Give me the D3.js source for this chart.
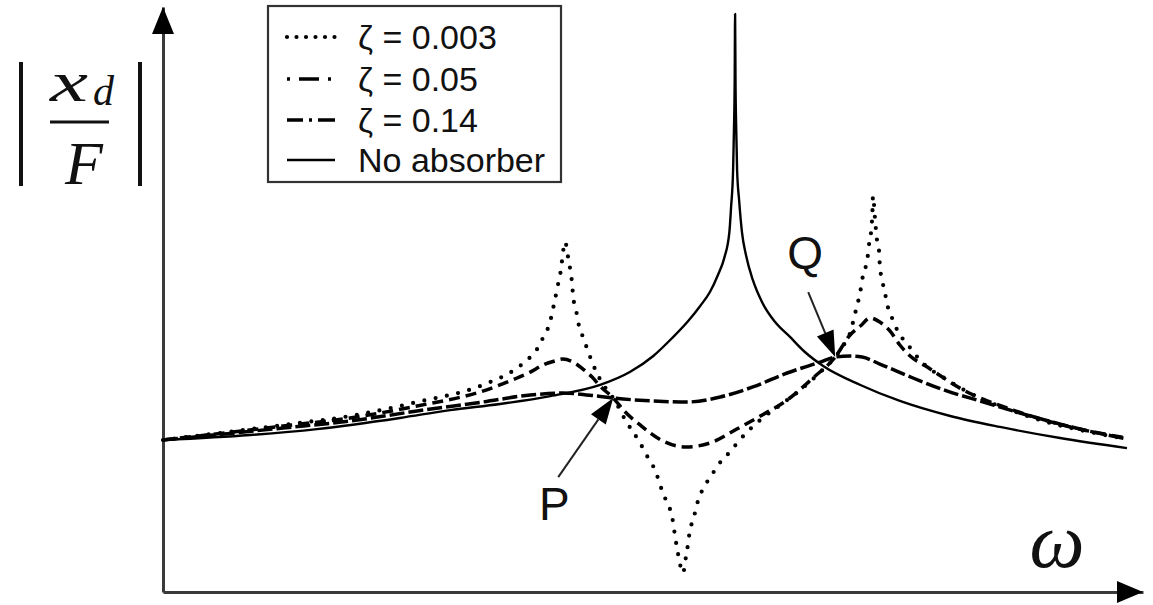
<!DOCTYPE html>
<html>
<head>
<meta charset="utf-8">
<script src="https://cdn.jsdelivr.net/npm/d3@7"></script>
<style>
  html, body { margin: 0; padding: 0; background: #fff; }
  svg { display: block; }
</style>
</head>
<body>
<svg id="chart" width="1153" height="605"></svg>
<script>
// Frequency ratio ω/ωn and response amplitude |x_d/F| (static response = 1)

// Main mass without absorber
const omegaNoAbsorber = [0, 0.152, 0.269, 0.414, 0.502, 0.589, 0.677, 0.764, 0.816, 0.857,
  0.890, 0.918, 0.939, 0.956, 0.970, 0.981, 0.990, 0.993, 0.9965, 0.998, 0.9993,
  1.000,
  1.0007, 1.002, 1.0035, 1.007, 1.012, 1.019, 1.031, 1.047, 1.070, 1.096, 1.122,
  1.154, 1.219, 1.288, 1.376, 1.463, 1.568, 1.685];
const ampNoAbsorber = [1.000, 1.033, 1.072, 1.145, 1.197, 1.237, 1.289, 1.362, 1.447, 1.553,
  1.671, 1.783, 1.882, 1.974, 2.086, 2.197, 2.368, 2.533, 2.776, 3.039, 3.368,
  3.803,
  3.368, 3.039, 2.776, 2.579, 2.368, 2.217, 2.053, 1.908, 1.776, 1.678, 1.579,
  1.487, 1.362, 1.257, 1.158, 1.086, 1.013, 0.947];

// Absorber damping ζ = 0.003
const omegaZeta003 = [0, 0.210, 0.327, 0.444, 0.559, 0.619, 0.642, 0.654, 0.664, 0.677,
  0.682, 0.691, 0.696, 0.699, 0.703, 0.708, 0.712, 0.715, 0.717, 0.722,
  0.726, 0.734, 0.741, 0.750, 0.760, 0.776, 0.787, 0.808, 0.834, 0.848,
  0.860, 0.872, 0.881, 0.890, 0.893, 0.897, 0.900, 0.904, 0.909, 0.914,
  0.918, 0.921, 0.927, 0.932, 0.939, 0.951, 0.965, 0.977, 0.991, 1.005,
  1.044, 1.079, 1.114, 1.149, 1.175, 1.192, 1.201, 1.210, 1.219, 1.224,
  1.231, 1.234, 1.238, 1.240, 1.241, 1.245, 1.248, 1.252, 1.253, 1.257,
  1.262, 1.267, 1.276, 1.285, 1.301, 1.323, 1.371, 1.428, 1.486, 1.545,
  1.603, 1.685];
const ampZeta003 = [1.000, 1.099, 1.158, 1.250, 1.362, 1.474, 1.546, 1.599, 1.671, 1.783,
  1.868, 2.033, 2.132, 2.230, 2.303, 2.204, 2.118, 2.033, 1.941, 1.855,
  1.770, 1.678, 1.605, 1.513, 1.428, 1.329, 1.276, 1.132, 0.980, 0.882,
  0.803, 0.671, 0.586, 0.493, 0.421, 0.322, 0.257, 0.178, 0.125, 0.230,
  0.322, 0.408, 0.474, 0.559, 0.638, 0.724, 0.803, 0.868, 0.921, 0.987,
  1.132, 1.230, 1.329, 1.447, 1.546, 1.638, 1.704, 1.836, 1.980, 2.092,
  2.184, 2.283, 2.382, 2.493, 2.605, 2.434, 2.316, 2.230, 2.145, 2.053,
  1.967, 1.875, 1.789, 1.711, 1.632, 1.526, 1.395, 1.276, 1.191, 1.118,
  1.066, 1.007];

// Absorber damping ζ = 0.05
const omegaZeta05 = [0, 0.210, 0.327, 0.444, 0.559, 0.619, 0.642, 0.664, 0.685, 0.699,
  0.717, 0.734, 0.750, 0.764, 0.787, 0.808, 0.834, 0.874, 0.913, 0.956,
  1.003, 1.044, 1.091, 1.136, 1.175, 1.201, 1.219, 1.236, 1.253, 1.271,
  1.288, 1.306, 1.336, 1.399, 1.486, 1.586, 1.685];
const ampZeta05 = [1.000, 1.092, 1.145, 1.224, 1.322, 1.408, 1.447, 1.493, 1.520, 1.533,
  1.513, 1.467, 1.414, 1.355, 1.276, 1.184, 1.099, 0.993, 0.954, 0.980,
  1.072, 1.158, 1.263, 1.408, 1.546, 1.691, 1.750, 1.803, 1.776, 1.717,
  1.625, 1.553, 1.480, 1.329, 1.197, 1.086, 1.013];

// Absorber damping ζ = 0.14
const omegaZeta14 = [0, 0.210, 0.327, 0.444, 0.559, 0.642, 0.699, 0.759, 0.787, 0.857,
  0.916, 0.974, 1.031, 1.091, 1.149, 1.175, 1.201, 1.222, 1.253, 1.311,
  1.371, 1.428, 1.516, 1.603, 1.685];
const ampZeta14 = [1.000, 1.079, 1.125, 1.191, 1.250, 1.296, 1.309, 1.289, 1.276, 1.257,
  1.250, 1.283, 1.349, 1.441, 1.513, 1.546, 1.553, 1.546, 1.500, 1.408,
  1.322, 1.257, 1.158, 1.072, 1.007];

const legendLabels = ["ζ = 0.003", "ζ = 0.05", "ζ = 0.14", "No absorber"];

// Fixed points shared by every damped curve
const fixedNames = ["P", "Q"];
const fixedOmega = [0.787, 1.175];
const fixedAmp = [1.276, 1.546];

// ---------------------------------------------------------------------------
const svg = d3.select("#chart");

const x = d3.scaleLinear().domain([0, 1.713]).range([163, 1143]);
const y = d3.scaleLinear().domain([0, 3.849]).range([592, 7]);

const line = d3.line()
  .x(d => x(d[0]))
  .y(d => y(d[1]))
  .curve(d3.curveMonotoneX);

const series = [
  { label: legendLabels[0], pts: d3.zip(omegaZeta003, ampZeta003),
    width: 4.2, dash: "0 11.5", cap: "round", legendDash: "0 9.5" },
  { label: legendLabels[1], pts: d3.zip(omegaZeta05, ampZeta05),
    width: 3.5, dash: "11 6", cap: "butt", legendDash: "3 9 20 9 3 4" },
  { label: legendLabels[2], pts: d3.zip(omegaZeta14, ampZeta14),
    width: 3.5, dash: "15 4", cap: "butt", legendDash: "16 6 3 6 17" },
  { label: legendLabels[3], pts: d3.zip(omegaNoAbsorber, ampNoAbsorber),
    width: 2.4, dash: null, cap: "butt", legendDash: null }
];

// Axes: plain lines without ticks, finished with arrowheads
const axisColor = "#3a3a3a";
const xAxis = svg.append("g").attr("transform", `translate(0,${y(0)})`)
  .call(d3.axisBottom(x).tickValues([]).tickSizeOuter(0));
const yAxis = svg.append("g").attr("transform", `translate(${x(0)},0)`)
  .call(d3.axisLeft(y).tickValues([]).tickSizeOuter(0));
[xAxis, yAxis].forEach(g => g.select(".domain")
  .attr("stroke", axisColor).attr("stroke-width", 3));

const xEnd = x.range()[1], yTop = y.range()[1];
svg.append("path")
  .attr("d", `M${xEnd},${y(0)} L${xEnd - 26},${y(0) - 11} L${xEnd - 26},${y(0) + 11} Z`)
  .attr("fill", "#000");
svg.append("path")
  .attr("d", `M${x(0)},${yTop} L${x(0) - 11},${yTop + 27} L${x(0) + 11},${yTop + 27} Z`)
  .attr("fill", "#000");

// Curves
svg.append("g").selectAll("path")
  .data(series)
  .join("path")
  .attr("d", d => line(d.pts))
  .attr("fill", "none")
  .attr("stroke", "#000")
  .attr("stroke-width", d => d.width)
  .attr("stroke-linecap", d => d.cap)
  .attr("stroke-linejoin", "round")
  .attr("stroke-dasharray", d => d.dash);

// Fixed point annotations P and Q
const annot = [
  { tail: [-55, 79], text: [-59, 122] },
  { tail: [-27, -65], text: [-30, -88] }
];
fixedNames.forEach((name, i) => {
  const px = x(fixedOmega[i]), py = y(fixedAmp[i]);
  const a = annot[i];
  const tx = px + a.tail[0], ty = py + a.tail[1];
  const ang = Math.atan2(py - ty, px - tx);
  const hl = 26, hw = 9;
  const bx = px - hl * Math.cos(ang), by = py - hl * Math.sin(ang);
  svg.append("line")
    .attr("x1", tx).attr("y1", ty).attr("x2", bx).attr("y2", by)
    .attr("stroke", "#222").attr("stroke-width", 2);
  const nx = -Math.sin(ang), ny = Math.cos(ang);
  svg.append("path")
    .attr("d", `M${px},${py} L${bx + nx * hw},${by + ny * hw} L${bx - nx * hw},${by - ny * hw} Z`)
    .attr("fill", "#000");
  svg.append("text")
    .attr("x", px + a.text[0]).attr("y", py + a.text[1])
    .attr("text-anchor", "middle")
    .attr("font-family", "'Liberation Sans', Arial, sans-serif")
    .attr("font-size", 46)
    .attr("fill", "#111")
    .text(name);
});

// Legend
const legend = svg.append("g");
legend.append("rect")
  .attr("x", 268).attr("y", 6).attr("width", 293).attr("height", 176)
  .attr("fill", "#fff").attr("stroke", "#333").attr("stroke-width", 2.2);
const rowY = [37, 79, 120, 160];
series.forEach((s, i) => {
  legend.append("line")
    .attr("x1", 287).attr("x2", 335).attr("y1", rowY[i]).attr("y2", rowY[i])
    .attr("stroke", "#000")
    .attr("stroke-width", s.width)
    .attr("stroke-linecap", s.cap)
    .attr("stroke-dasharray", s.legendDash);
  legend.append("text")
    .attr("x", 358).attr("y", rowY[i] + 12)
    .attr("font-family", "'Liberation Sans', Arial, sans-serif")
    .attr("font-size", 34)
    .attr("fill", "#111")
    .text(s.label);
});

// Axis titles
const serif = "'Liberation Serif', 'Times New Roman', serif";
const yl = svg.append("g").attr("fill", "#111");
[21, 140].forEach(bx => yl.append("line")
  .attr("x1", bx).attr("x2", bx).attr("y1", 62).attr("y2", 186)
  .attr("stroke", "#111").attr("stroke-width", 4));
yl.append("text").attr("x", 50).attr("y", 101)
  .attr("font-family", serif).attr("font-style", "italic").attr("font-size", 58)
  .attr("textLength", 38).attr("lengthAdjust", "spacingAndGlyphs").text("x");
yl.append("text").attr("x", 93).attr("y", 105)
  .attr("font-family", serif).attr("font-style", "italic").attr("font-size", 42)
  .text("d");
yl.append("line").attr("x1", 50).attr("x2", 109).attr("y1", 122).attr("y2", 122)
  .attr("stroke", "#111").attr("stroke-width", 3);
yl.append("text").attr("x", 84).attr("y", 184).attr("text-anchor", "middle")
  .attr("font-family", serif).attr("font-style", "italic").attr("font-size", 62)
  .text("F");

svg.append("text").attr("x", 1057).attr("y", 567).attr("text-anchor", "middle")
  .attr("font-family", serif).attr("font-style", "italic").attr("font-size", 78)
  .attr("fill", "#111")
  .text("ω");
</script>
</body>
</html>
